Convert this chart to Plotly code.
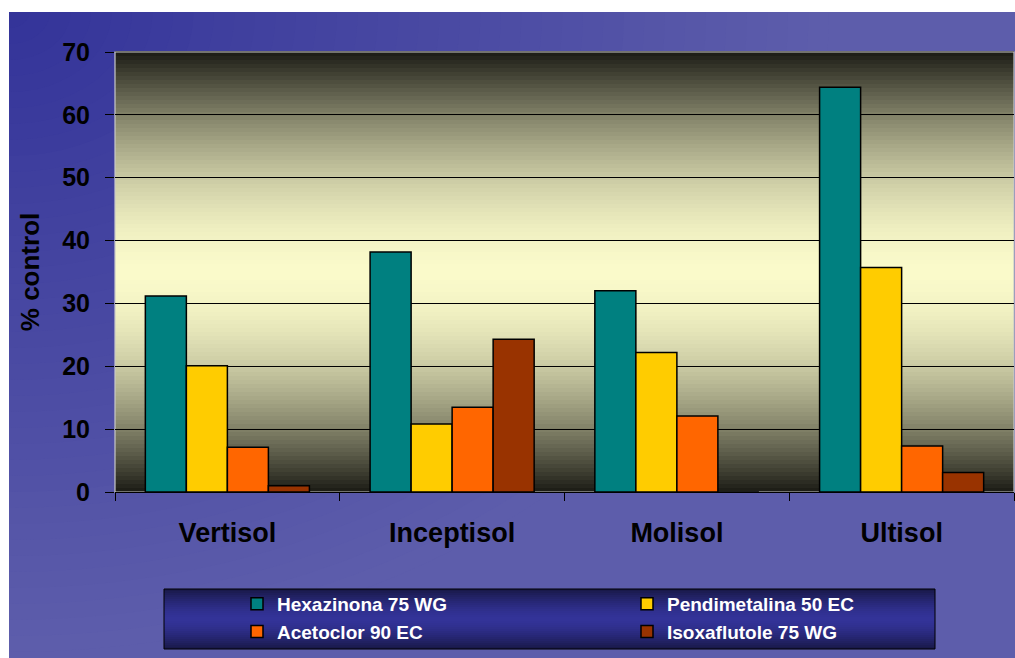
import plotly.graph_objects as go

# ---------------- data ----------------
categories = ["Vertisol", "Inceptisol", "Molisol", "Ultisol"]
hexazinona = [31.2, 38.2, 32.0, 64.4]
pendimetalina = [20.1, 10.8, 22.2, 35.7]
acetoclor = [7.1, 13.5, 12.1, 7.3]
isoxaflutole = [1.0, 24.3, 0.0, 3.1]
series_names = ["Hexazinona 75 WG", "Pendimetalina 50 EC", "Acetoclor 90 EC", "Isoxaflutole 75 WG"]
y_ticks = [0, 10, 20, 30, 40, 50, 60, 70]
y_title = "% control"

# ---------------- style ----------------
W, H = 1015, 658
ML, MR, MT, MB = 115, 1, 52, 166
PW, PH = W - ML - MR, H - MT - MB
colors = ["#008080", "#FFCC00", "#FF6600", "#993300"]
FONT = "Arial, Liberation Sans, sans-serif"


def px_x(px):
    return (px - ML) / PW


def px_y(py):
    return (H - MB - py) / PH


def lerp(c1, c2, t):
    return "rgb(%d,%d,%d)" % tuple(round(a + (b - a) * t) for a, b in zip(c1, c2))


shapes = []

# page background: radial-ish blue gradient from top-left corner
dark_blue = (51, 51, 153)
light_blue = (93, 93, 171)
cx, cy = 9, 12
shapes.append(dict(type="rect", xref="paper", yref="paper",
                   x0=px_x(9), x1=px_x(W + 5), y0=px_y(12), y1=px_y(H + 5),
                   fillcolor=lerp(dark_blue, light_blue, 1), line_width=0, layer="below"))
N = 40
RX, RY = 820, 640
for i in range(N, 0, -1):
    t = i / N
    rx, ry = RX * t, RY * t
    shapes.append(dict(type="circle", xref="paper", yref="paper",
                       x0=px_x(cx - rx), x1=px_x(cx + rx),
                       y0=px_y(cy + ry), y1=px_y(cy - ry),
                       fillcolor=lerp(dark_blue, light_blue, t), line_width=0, layer="below"))
# white margins left/top
shapes.append(dict(type="rect", xref="paper", yref="paper",
                   x0=px_x(-5), x1=px_x(9), y0=px_y(-5), y1=px_y(H + 5),
                   fillcolor="white", line_width=0, layer="below"))
shapes.append(dict(type="rect", xref="paper", yref="paper",
                   x0=px_x(-5), x1=px_x(W + 5), y0=px_y(-5), y1=px_y(12),
                   fillcolor="white", line_width=0, layer="below"))

# legend box gradient
LX0, LX1, LY0, LY1 = 164, 935, 589, 649
leg_dark = (24, 24, 70)
leg_mid = (51, 51, 153)
NL = 30
for i in range(NL):
    y0 = LY0 + (LY1 - LY0) * i / NL
    y1 = LY0 + (LY1 - LY0) * (i + 1) / NL
    s = (i + 0.5) / NL
    u = abs(s - 0.5) * 2
    shapes.append(dict(type="rect", xref="paper", yref="paper",
                       x0=px_x(LX0), x1=px_x(LX1), y0=px_y(y1), y1=px_y(y0),
                       fillcolor=lerp(leg_mid, leg_dark, u ** 1.5), line_width=0, layer="below"))
shapes.append(dict(type="rect", xref="paper", yref="paper",
                   x0=px_x(LX0), x1=px_x(LX1), y0=px_y(LY1), y1=px_y(LY0),
                   fillcolor="rgba(0,0,0,0)", line=dict(color="black", width=1), layer="below"))

# plot area gradient (dark top/bottom, pale yellow centre)
pa_light = (250, 250, 202)
pa_dark = (26, 26, 20)
NP = 110
for i in range(NP):
    s0, s1 = i / NP, (i + 1) / NP
    s = (s0 + s1) / 2
    u = abs(s - 0.5) * 2
    shapes.append(dict(type="rect", xref="x domain", yref="y domain",
                       x0=0, x1=1, y0=s0, y1=s1 + 0.002,
                       fillcolor=lerp(pa_light, pa_dark, u ** 1.8), line_width=0, layer="below"))
shapes.append(dict(type="rect", xref="x domain", yref="y domain",
                   x0=0, x1=1, y0=0, y1=1,
                   fillcolor="rgba(0,0,0,0)", line=dict(color="#c8c8c8", width=1.2), layer="below"))

fig = go.Figure()
for name, vals, col in zip(series_names, [hexazinona, pendimetalina, acetoclor, isoxaflutole], colors):
    fig.add_trace(go.Bar(x=categories, y=vals, name=name,
                         marker=dict(color=col, line=dict(color="black", width=1.5))))

fig.update_layout(
    width=W, height=H,
    margin=dict(l=ML, r=MR, t=MT, b=MB, pad=0, autoexpand=False),
    paper_bgcolor="white",
    plot_bgcolor="rgba(0,0,0,0)",
    barmode="group", bargap=0.27, bargroupgap=0,
    font=dict(family=FONT, color="black"),
    shapes=shapes,
    showlegend=True,
    legend=dict(orientation="h", x=px_x(237), xanchor="left", y=px_y(585), yanchor="top",
                bgcolor="rgba(0,0,0,0)", borderwidth=0,
                entrywidth=345, entrywidthmode="pixels",
                font=dict(family=FONT, size=19, color="white", weight="bold"),
                traceorder="normal", itemclick=False),
    xaxis=dict(type="category", tickson="boundaries", ticks="outside", ticklen=8,
               tickcolor="black", tickwidth=1, showline=True, linecolor="black", linewidth=1,
               showgrid=False, ticklabelstandoff=17,
               tickfont=dict(family=FONT, size=27, color="black", weight="bold")),
    yaxis=dict(range=[0, 70], tickvals=y_ticks, ticks="outside", ticklen=9, tickcolor="black",
               tickwidth=1, showgrid=True, gridcolor="black", gridwidth=1, zeroline=False,
               showline=False, ticklabelstandoff=10,
               tickfont=dict(family=FONT, size=25, color="black", weight="bold"),
               title=dict(text=y_title, standoff=15,
                          font=dict(family=FONT, size=26, color="black", weight="bold"))),
)

fig.write_html("out.html", post_script="document.body.style.margin='0';",
               config={"displayModeBar": False})
